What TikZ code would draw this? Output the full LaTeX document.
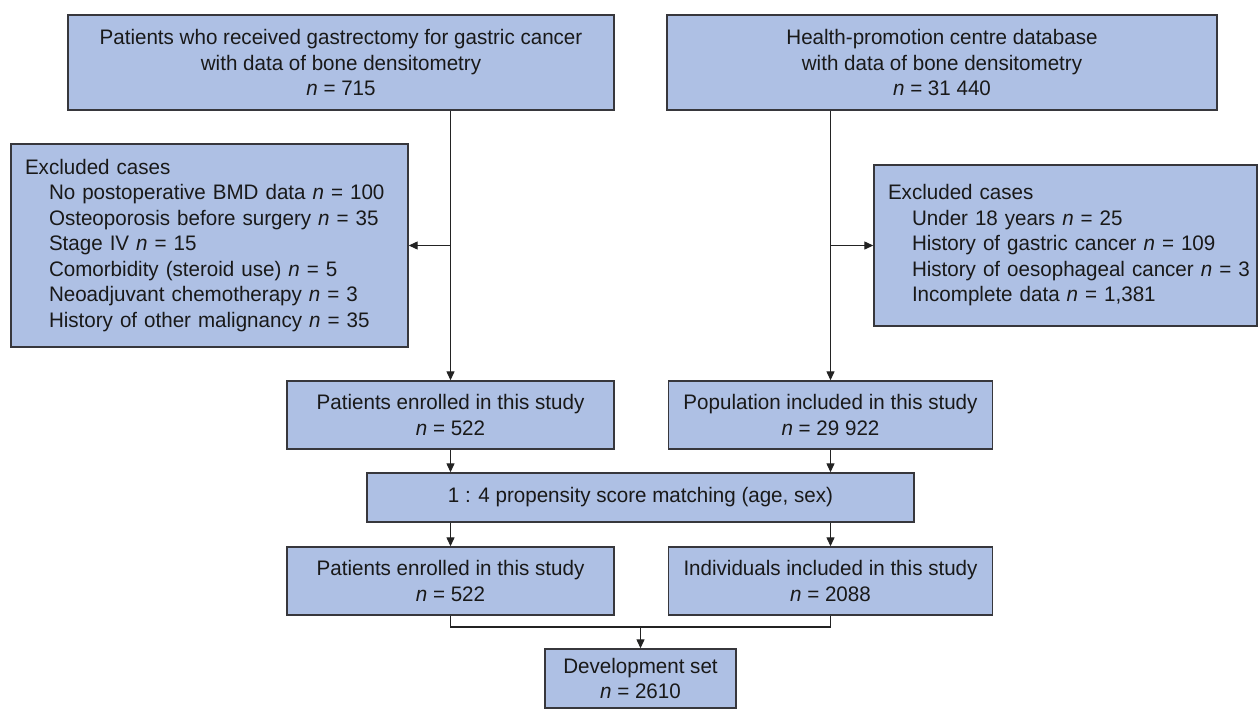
\documentclass[tikz,border=0pt]{standalone}
\usepackage{fontspec}
\setmainfont{Liberation Sans}[FakeStretch=0.98]
\usetikzlibrary{arrows.meta,calc}
\definecolor{boxfill}{RGB}{174,192,228}
\definecolor{boxline}{RGB}{55,55,60}
\definecolor{conn}{RGB}{35,35,35}
\tikzset{
  fbox/.style={draw=boxline, fill=boxfill, line width=1.4pt, inner sep=0pt,
    align=center, font=\fontsize{21}{25.5}\selectfont, text=black!90},
  exbox/.style={fbox, align=left, inner xsep=14pt},
  link/.style={draw=conn, line width=1.2pt},
  arr/.style={link, -{Triangle[length=9pt,width=8pt]}}
}
\newcommand{\nn}{\textit{n}}
\newcommand{\ind}{\hspace*{24pt}}
\begin{document}
\begin{tikzpicture}[x=1pt,y=-1pt]
\useasboundingbox (0,0) rectangle (1258,710);
\fill[white] (0,0) rectangle (1258,710);

\node[fbox, minimum width=546pt, minimum height=95pt] (A) at (341,62.5)
  {Patients who received gastrectomy for gastric cancer\\with data of bone densitometry\\\nn{} = 715};
\node[fbox, minimum width=550pt, minimum height=95pt] (B) at (942,62.5)
  {Health-promotion centre database\\with data of bone densitometry\\\nn{} = 31 440};

\node[exbox, minimum width=397pt, minimum height=203pt, text width=369pt] (EL) at (209.5,245.5)
  {Excluded cases\\
   \ind No postoperative BMD data \nn{} = 100\\
   \ind Osteoporosis before surgery \nn{} = 35\\
   \ind Stage IV \nn{} = 15\\
   \ind Comorbidity (steroid use) \nn{} = 5\\
   \ind Neoadjuvant chemotherapy \nn{} = 3\\
   \ind History of other malignancy \nn{} = 35};
\node[exbox, minimum width=383pt, minimum height=161pt, text width=355pt] (ER) at (1065.5,245.5)
  {Excluded cases\\
   \ind Under 18 years \nn{} = 25\\
   \ind History of gastric cancer \nn{} = 109\\
   \ind\mbox{History of oesophageal cancer \nn{} = 3}\\
   \ind Incomplete data \nn{} = 1,381};

\node[fbox, minimum width=327pt, minimum height=68pt] (L2) at (450.5,415)
  {Patients enrolled in this study\\\nn{} = 522};
\node[fbox, minimum width=324pt, minimum height=68pt] (R2) at (830.5,415)
  {Population included in this study\\\nn{} = 29 922};
\node[fbox, minimum width=547pt, minimum height=49pt] (PSM) at (640.5,497.5)
  {1 : 4 propensity score matching (age, sex)};
\node[fbox, minimum width=327pt, minimum height=68pt] (L3) at (450.5,581)
  {Patients enrolled in this study\\\nn{} = 522};
\node[fbox, minimum width=324pt, minimum height=68pt] (R3) at (830.5,581)
  {Individuals included in this study\\\nn{} = 2088};
\node[fbox, minimum width=191pt, minimum height=59pt] (D) at (640.5,678.5)
  {Development set\\\nn{} = 2610};

% connectors
\draw[arr] (A.south -| L2.north) -- (L2.north);
\draw[arr] (B.south -| R2.north) -- (R2.north);
\coordinate (jl) at (L2.north |- EL.east);
\coordinate (jr) at (R2.north |- ER.west);
\draw[arr] (jl) -- (EL.east);
\draw[arr] (jr) -- (ER.west);
\draw[arr] (L2.south) -- (L2.south |- PSM.north);
\draw[arr] (R2.south) -- (R2.south |- PSM.north);
\draw[arr] (L2.south |- PSM.south) -- (L3.north);
\draw[arr] (R2.south |- PSM.south) -- (R3.north);
\coordinate (m) at (D.north |- 0,627);
\draw[link] (L3.south) |- (m) -| (R3.south);
\draw[arr] (m) -- (D.north);
\end{tikzpicture}
\end{document}
